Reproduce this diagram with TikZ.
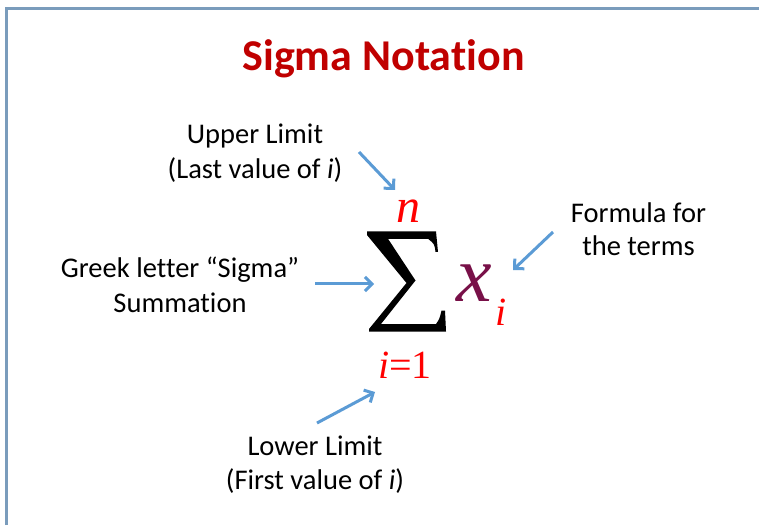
\documentclass[tikz,border=0pt]{standalone}
\usepackage{fontspec}
\setmainfont[Ligatures={NoCommon}]{Carlito}
\newfontfamily\tnr{Liberation Serif}
\usetikzlibrary{arrows.meta}
\definecolor{arrowblue}{RGB}{91,155,213}
\definecolor{titlered}{RGB}{192,0,0}
\definecolor{framecol}{RGB}{122,156,188}
\definecolor{xcol}{RGB}{120,16,72}
\definecolor{mathred}{RGB}{255,0,0}
\begin{document}
\begin{tikzpicture}[x=1pt,y=1pt,
  lbl/.style={align=center,inner sep=0pt,text=black,font=\fontsize{28.5}{35}\selectfont},
  mth/.style={inner sep=0pt,text=mathred,font=\tnr\itshape},
  arr/.style={draw=arrowblue,line width=3pt,-{Straight Barb[length=7pt,width=14pt]}}]
\useasboundingbox (0,0) rectangle (759,525);
\fill[white] (0,0) rectangle (759,525);
\draw[framecol,line width=2.5pt] (6.5,0) -- (6.5,516.5) -- (759,516.5);

\node[inner sep=0pt,text=titlered,font=\fontsize{44}{50}\selectfont\bfseries] (title) at (383.5,466.5) {Sigma Notation};

\node[lbl] (upper) at (255,372) {Upper Limit\\(Last value of \textit{i})};
\node[lbl,font=\fontsize{28.5}{33}\selectfont] (formula) at (638.5,296) {Formula for\\the terms};
\node[lbl] (greek) at (180,240) {Greek letter “Sigma”\\Summation};
\node[lbl,font=\fontsize{28.5}{34}\selectfont] (lower) at (315,60) {Lower Limit\\(First value of \textit{i})};

% the big summation sign, drawn as a shape (pixel coordinates, y downwards)
\begin{scope}[shift={(0,525)},yscale=-1]
\fill[black]
  (367,231.5) -- (436,231.5) -- (438,252) -- (435.5,252)
  .. controls (434.5,244) .. (428,238.8)
  -- (388,238.8) -- (415.5,280.5) -- (381,324)
  -- (436,324) .. controls (439.5,319) .. (441.5,310.5)
  -- (445,310.5) -- (446,331.5) -- (369,331.5) -- (369,329)
  -- (406.5,283) -- (367,235) -- cycle;
\end{scope}
\coordinate (sigma) at (406.5,243.5);

\node[mth,anchor=base,font=\tnr\itshape\fontsize{48}{48}\selectfont] (upn) at (408,302) {n};
\node[mth,anchor=base,font=\tnr\fontsize{40}{40}\selectfont] (lown) at (405,147) {\textit{i}=1};
\node[mth,anchor=base west,text=xcol,font=\tnr\itshape\fontsize{80}{80}\selectfont] (xterm) at (456,224) {x};
\node[mth,anchor=base west,font=\tnr\itshape\fontsize{40}{40}\selectfont] (sub) at (495,200) {i};

\coordinate (ua) at (359,373);
\coordinate (ub) at (395,335);
\coordinate (fa) at (553,293);
\coordinate (fb) at (513,255);
\coordinate (ga) at (315,241);
\coordinate (gb) at (374,241);
\coordinate (la) at (317,102);
\coordinate (lb) at (375,133);
\draw[arr] (ua) -- (ub);
\draw[arr] (fa) -- (fb);
\draw[arr] (ga) -- (gb);
\draw[arr] (la) -- (lb);
\end{tikzpicture}
\end{document}
